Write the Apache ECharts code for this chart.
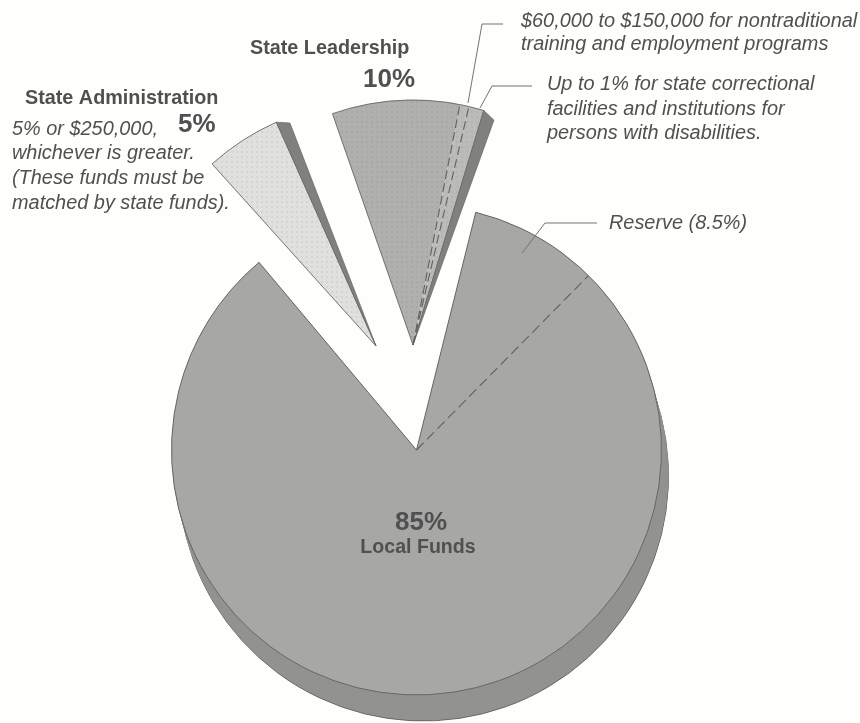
<!DOCTYPE html>
<html>
<head>
<meta charset="utf-8">
<title>Allocation of funds</title>
<script src="https://cdn.jsdelivr.net/npm/echarts@6/dist/echarts.min.js"></script>
<style>
  html, body { margin: 0; padding: 0; background: #fefefd; }
  #chart { width: 860px; height: 723px; }
</style>
</head>
<body>
<div id="chart"></div>
<script>
// Shares of the grant, in percent of the whole.
const localShares = [8.5, 76.5];            // reserve, remaining local funds
const leadershipShares = [8.4, 0.6, 1];     // general, nontraditional, correctional
const administrationShares = [5];

const sum = a => a.reduce((s, v) => s + v, 0);
const toDeg = p => p * 3.6;

// Drawing geometry: each exploded wedge has its own apex and starting clock angle.
const RIM = 245;
const localPie = { center: [416.5, 450], clock: 14 };
const leadershipPie = { center: [413, 345], clock: -19.2 };
const adminPie = { center: [376, 346], clock: -42 };
const DEPTH = [7, 26];

const COLORS = {
  top: '#a7a8a5',
  side: '#92938f',
  wall: '#80817e',
  outline: '#666663',
  leader: '#737371',
  text: '#505050'
};

// Halftone screen used on the two exploded wedges.
function screen(base, dot) {
  const c = document.createElement('canvas');
  c.width = c.height = 5;
  const g = c.getContext('2d');
  g.fillStyle = base;
  g.fillRect(0, 0, 5, 5);
  g.fillStyle = dot;
  g.fillRect(1, 1, 2, 2);
  return { image: c, repeat: 'repeat' };
}

// One pie whose visible slices start at a clock angle; the rest of the circle stays empty.
function wedge(pie, slices, radius, center) {
  const total = sum(slices.map(s => s.value));
  return {
    type: 'pie',
    silent: true,
    animation: false,
    clockwise: true,
    startAngle: 90 - pie.clock,
    center: center || pie.center,
    radius: [0, radius || RIM],
    minShowLabelRadian: 0,
    avoidLabelOverlap: false,
    label: { show: false },
    labelLine: { show: false },
    emphasis: { disabled: true },
    data: slices.concat([{
      value: 100 - total,
      itemStyle: { color: 'rgba(0,0,0,0)', borderWidth: 0 }
    }])
  };
}

const series = [];

// Thickness of the large pie, stacked layer by layer under its top face.
const localTotal = sum(localShares);
for (let i = DEPTH[1]; i > 0; i--) {
  const f = i / DEPTH[1];
  series.push(wedge(localPie, [{
    value: localTotal,
    itemStyle: { color: COLORS.side, borderWidth: i === DEPTH[1] ? 1 : 0, borderColor: COLORS.outline }
  }], RIM, [localPie.center[0] + DEPTH[0] * f, localPie.center[1] + DEPTH[1] * f]));
}

// Top face of the large pie with a single outline around both parts.
series.push(wedge(localPie, localShares.map(v => ({
  value: v, itemStyle: { color: COLORS.top, borderWidth: 0 }
}))));
series.push(wedge(localPie, [{
  value: localTotal,
  itemStyle: { color: 'rgba(0,0,0,0)', borderColor: COLORS.outline, borderWidth: 1 }
}]));

// State Leadership wedge top face.
const leadershipTotal = sum(leadershipShares);
const leadFill = screen('#b0b1ae', '#a8a9a6');
series.push(wedge(leadershipPie, leadershipShares.map((v, i) => ({
  value: v,
  itemStyle: { color: i === 0 ? leadFill : screen('#bbbcb9', '#b3b4b1'), borderWidth: 0 }
}))));
series.push(wedge(leadershipPie, [{
  value: leadershipTotal,
  itemStyle: { color: 'rgba(0,0,0,0)', borderColor: COLORS.outline, borderWidth: 0.9 }
}]));

// State Administration wedge top face.
const adminTotal = sum(administrationShares);
series.push(wedge(adminPie, administrationShares.map(v => ({
  value: v,
  itemStyle: { color: screen('#e0e0dd', '#d4d4d1'), borderColor: COLORS.outline, borderWidth: 0.9 }
}))));

const polar = (pie, clock, r) => {
  const a = clock * Math.PI / 180;
  return [pie.center[0] + r * Math.sin(a), pie.center[1] - r * Math.cos(a)];
};

// Cut face of an exploded wedge: a sliver from the apex to the wedge's clockwise corner.
function cutFace(pie, share, spread, r) {
  const end = pie.clock + toDeg(share);
  return {
    type: 'polygon', z: 40, silent: true,
    shape: { points: [pie.center, polar(pie, end, RIM), polar(pie, end + spread, r)] },
    style: { fill: COLORS.wall, stroke: COLORS.outline, lineWidth: 0.7 }
  };
}

// Dashed dividers, placed from the same shares as the slices they separate.
function divider(pie, share, dash) {
  const p = polar(pie, pie.clock + toDeg(share), RIM);
  return {
    type: 'line', z: 50, silent: true,
    shape: { x1: pie.center[0], y1: pie.center[1], x2: p[0], y2: p[1] },
    style: { stroke: '#606060', lineWidth: 1.1, lineDash: dash, fill: null }
  };
}

function leader(points) {
  return {
    type: 'polyline', z: 50, silent: true,
    shape: { points },
    style: { stroke: COLORS.leader, lineWidth: 1, fill: null }
  };
}

function text(str, x, y, opts) {
  return {
    type: 'text', z: 60, silent: true, x, y,
    style: Object.assign({
      text: str,
      fill: COLORS.text,
      fontFamily: '"Liberation Sans", Arial, sans-serif',
      fontSize: 19.9,
      fontStyle: 'italic',
      textVerticalAlign: 'middle',
      textAlign: 'left'
    }, opts || {})
  };
}
const bold = (size, align) => ({ fontStyle: 'normal', fontWeight: 'bold', fontSize: size, textAlign: align || 'left' });

const graphics = [
  cutFace(leadershipPie, leadershipTotal, 3, 239),
  cutFace(adminPie, adminTotal, 2.9, 239),

  divider(localPie, localShares[0], [10, 5]),
  divider(leadershipPie, leadershipShares[0], [9, 4]),
  divider(leadershipPie, leadershipShares[0] + leadershipShares[1], [9, 4]),

  leader([[503, 24], [482, 24], [468, 103]]),
  leader([[532, 86], [492, 86], [480, 108]]),
  leader([[597, 223], [545, 223], [522, 253]]),

  text('$60,000 to $150,000 for nontraditional', 521, 21),
  text('training and employment programs', 521, 44),
  text('Up to 1% for state correctional', 547, 84),
  text('facilities and institutions for', 547, 109),
  text('persons with disabilities.', 547, 133),
  text('Reserve (8.5%)', 609, 223),

  text('State Leadership', 250, 49, bold(19.8)),
  text('10%', 363, 80, bold(26)),
  text('State Administration', 25, 99, bold(19.8)),
  text('5%', 178, 125, bold(26)),
  text('5% or $250,000,', 12, 129),
  text('whichever is greater.', 12, 153),
  text('(These funds must be', 12, 178),
  text('matched by state funds).', 12, 203),

  text('85%', 421, 523, bold(26, 'center')),
  text('Local Funds', 418, 548, bold(19.6, 'center'))
];

const chart = echarts.init(document.getElementById('chart'), null, { renderer: 'canvas' });
chart.setOption({
  backgroundColor: '#fefefd',
  animation: false,
  tooltip: { show: false },
  legend: { show: false },
  series,
  graphic: { elements: graphics }
});
</script>
</body>
</html>
